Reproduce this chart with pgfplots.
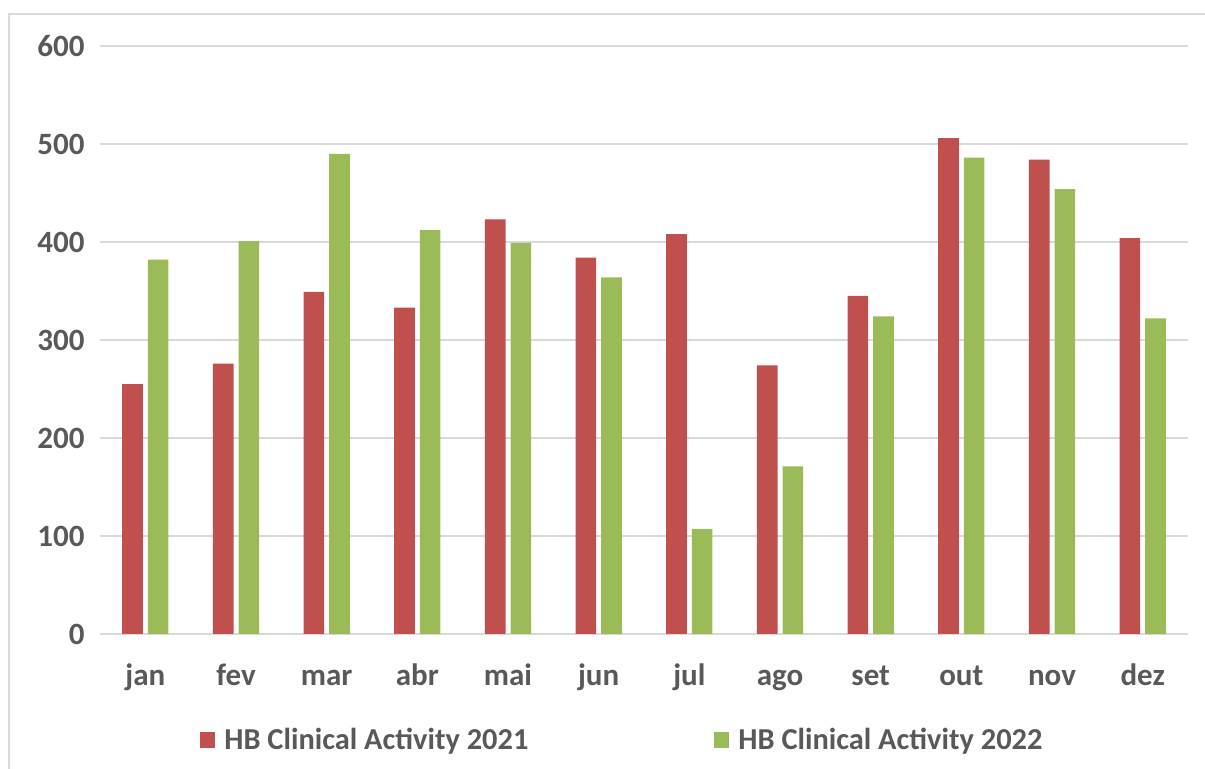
\documentclass[border=0pt]{standalone}
\usepackage{fontspec}
\setmainfont{Carlito}
\usepackage{pgfplots}
\pgfplotsset{compat=1.18}
\definecolor{cred}{HTML}{C0504D}
\definecolor{cgreen}{HTML}{9BBB59}
\definecolor{ctext}{HTML}{595959}
\definecolor{cgrid}{HTML}{D9D9D9}
\begin{document}
\begin{tikzpicture}
\useasboundingbox (0,0) rectangle (602.5pt,384.5pt);
\draw[cgrid, line width=0.75pt] (4.5pt,0) -- (4.5pt,377.5pt) -- (602.5pt,377.5pt);
\begin{axis}[
  at={(50pt,67.5pt)}, anchor=south west,
  scale only axis, width=544pt, height=294pt,
  ymin=0, ymax=600, ytick={0,100,...,600},
  xmin=-0.5, xmax=11.5,
  xtick={0,...,11},
  xticklabels={jan,fev,mar,abr,mai,jun,jul,ago,set,out,nov,dez},
  ybar=2.5pt, bar width=10.3pt,
  axis line style={draw=none},
  major tick style={draw=none},
  ymajorgrids, major grid style={cgrid, line width=0.75pt},
  /pgf/number format/assume math mode=true,
  tick label style={font=\fontsize{15.5}{18}\selectfont\bfseries, text=ctext},
  yticklabel style={inner sep=0pt, anchor=east, xshift=-7.5pt},
  xticklabel style={inner sep=0pt, anchor=base, yshift=-21.5pt},
  clip=false,
  legend columns=2,
  legend style={draw=none, fill=none, at={(0.0919,-0.1803)}, anchor=west,
    font=\fontsize{15.2}{18}\selectfont\bfseries, text=ctext,
    /tikz/every even column/.append style={column sep=88.5pt},
    inner sep=0pt, nodes={inner xsep=4.5pt, inner ysep=0pt}},
  legend image code/.code={\fill[#1] (0pt,-4pt) rectangle (7.5pt,4pt);},
]
\addplot[fill=cred, draw=none] coordinates {(0,255) (1,276) (2,349) (3,333) (4,423) (5,384) (6,408) (7,274) (8,345) (9,506) (10,484) (11,404)};
\addplot[fill=cgreen, draw=none] coordinates {(0,382) (1,401) (2,490) (3,412) (4,399) (5,364) (6,107) (7,171) (8,324) (9,486) (10,454) (11,322)};
\legend{HB Clinical Activity 2021, HB Clinical Activity 2022}
\end{axis}
\end{tikzpicture}
\end{document}
